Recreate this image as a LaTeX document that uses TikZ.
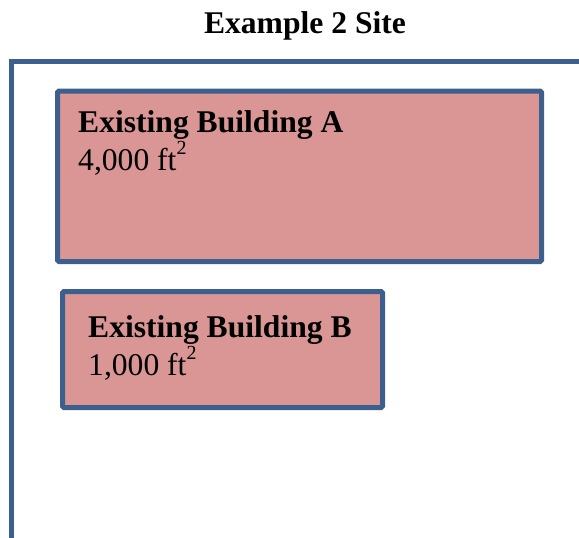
\documentclass[tikz,border=0pt]{standalone}
\usepackage{fontspec}
\setmainfont{Liberation Serif}
\definecolor{siteblue}{HTML}{3C5F8E}
\definecolor{bldgfill}{HTML}{D99694}
\newcommand{\sqft}{ft\raisebox{0.5em}{\fontsize{20}{20}\selectfont 2}}
\tikzset{
  building/.style={draw=siteblue, line width=5pt, fill=bldgfill, rounded corners=1.5pt, anchor=north west, inner sep=0pt, outer sep=0pt},
  bigtext/.style={anchor=base west, inner sep=0pt, font=\fontsize{31.6}{38}\selectfont},
}
\begin{document}
\begin{tikzpicture}[x=1pt,y=-1pt]
    \useasboundingbox (0,0) rectangle (579,538);

    % Title over the site
    \node[bigtext, anchor=base] (title) at (305,33) {\textbf{Example 2 Site}};

    % Site boundary (left and top edges)
    \coordinate (siteBottom) at (11,545);
    \coordinate (siteCorner) at (11,61.5);
    \coordinate (siteRight) at (585,61.5);
    \draw[siteblue, line width=5pt] (siteBottom) -- (siteCorner) -- (siteRight);

    % Existing building A
    \node[building, minimum width=484pt, minimum height=170.5pt] (bldgA) at (57.5,91) {};
    \node[bigtext] (bldgAName) at (78,132) {\textbf{Existing Building A}};
    \node[bigtext] (bldgAArea) at (78,170) {4,000 \sqft};

    % Existing building B
    \node[building, minimum width=320pt, minimum height=116pt] (bldgB) at (62.5,291.5) {};
    \node[bigtext] (bldgBName) at (88,337) {\textbf{Existing Building B}};
    \node[bigtext] (bldgBArea) at (88,375) {1,000 \sqft};

\end{tikzpicture}
\end{document}
